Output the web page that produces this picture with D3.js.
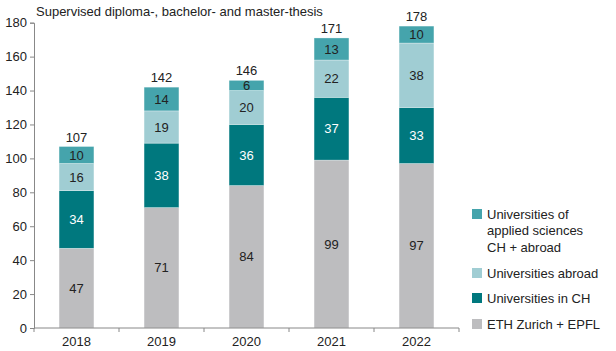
<!DOCTYPE html>
<html lang="en">
<head>
<meta charset="UTF-8">
<title>Supervised theses</title>
<script src="https://d3js.org/d3.v7.min.js"></script>
<style>
  body { margin: 0; background: #fff; }
  svg { font-family: "Liberation Sans", Arial, sans-serif; }
</style>
</head>
<body>
<div id="chart"></div>
<script>
const years = ["2018", "2019", "2020", "2021", "2022"];
const ethEpfl = [47, 71, 84, 99, 97];
const uniCH = [34, 38, 36, 37, 33];
const uniAbroad = [16, 19, 20, 22, 38];
const uniApplied = [10, 14, 6, 13, 10];
const yTicks = [0, 20, 40, 60, 80, 100, 120, 140, 160, 180];

const series = [
  { key: "eth", name: ["ETH Zurich + EPFL"], values: ethEpfl, color: "#bdbdbf", text: "#222" },
  { key: "ch", name: ["Universities in CH"], values: uniCH, color: "#00787e", text: "#fff" },
  { key: "abroad", name: ["Universities abroad"], values: uniAbroad, color: "#a0cdd3", text: "#222" },
  { key: "applied", name: ["Universities of", "applied sciences", "CH + abroad"], values: uniApplied, color: "#45a4ac", text: "#222" }
];

const width = 616, height = 351;
const plotLeft = 34, plotRight = 459, plotTop = 22.7, plotBottom = 328;

const svg = d3.select("#chart").append("svg")
  .attr("width", width)
  .attr("height", height);

const x = d3.scaleBand().domain(years).range([plotLeft, plotRight]).paddingInner(0.59).paddingOuter(0.295);
const y = d3.scaleLinear().domain([0, 180]).range([plotBottom, plotTop]);

// stack the rows
const rows = years.map((yr, i) => {
  const r = { year: yr };
  series.forEach(s => r[s.key] = s.values[i]);
  return r;
});
const stacked = d3.stack().keys(series.map(s => s.key))(rows);

// bars
const groups = svg.selectAll("g.layer")
  .data(stacked)
  .join("g")
  .attr("class", "layer")
  .attr("fill", (d, i) => series[i].color);

groups.selectAll("rect")
  .data(d => d)
  .join("rect")
  .attr("x", d => x(d.data.year))
  .attr("y", d => y(d[1]))
  .attr("width", x.bandwidth())
  .attr("height", d => y(d[0]) - y(d[1]))
  .attr("stroke", "#fff")
  .attr("stroke-opacity", 0.5)
  .attr("stroke-width", 0.6);

// segment labels
stacked.forEach((layer, i) => {
  svg.append("g").selectAll("text")
    .data(layer)
    .join("text")
    .attr("x", d => x(d.data.year) + x.bandwidth() / 2)
    .attr("y", d => (y(d[0]) + y(d[1])) / 2)
    .attr("dy", "0.36em")
    .attr("text-anchor", "middle")
    .attr("font-size", 13)
    .attr("fill", series[i].text)
    .text(d => d[1] - d[0]);
});

// totals
const last = stacked[stacked.length - 1];
svg.append("g").selectAll("text")
  .data(last)
  .join("text")
  .attr("x", d => x(d.data.year) + x.bandwidth() / 2)
  .attr("y", d => y(d[1]) - 5)
  .attr("text-anchor", "middle")
  .attr("font-size", 13)
  .attr("fill", "#222")
  .text(d => d[1]);

// axes
const yAxis = svg.append("g")
  .attr("transform", `translate(${plotLeft},0)`)
  .call(d3.axisLeft(y).tickValues(yTicks).tickSize(4).tickPadding(3));
yAxis.selectAll("text").attr("font-size", 13).attr("fill", "#222").attr("font-family", "Liberation Sans, Arial, sans-serif");

const xTickScale = d3.scaleLinear().domain([0, years.length]).range([plotLeft, plotRight]);
const xAxis = svg.append("g")
  .attr("transform", `translate(0,${plotBottom})`);
xAxis.append("line")
  .attr("x1", plotLeft).attr("x2", plotRight)
  .attr("stroke", "#888");
xAxis.selectAll("line.tk")
  .data(d3.range(years.length + 1))
  .join("line")
  .attr("class", "tk")
  .attr("x1", d => xTickScale(d)).attr("x2", d => xTickScale(d))
  .attr("y1", 0).attr("y2", 4)
  .attr("stroke", "#888");
xAxis.selectAll("text")
  .data(years)
  .join("text")
  .attr("x", d => x(d) + x.bandwidth() / 2)
  .attr("y", 18)
  .attr("text-anchor", "middle")
  .attr("font-size", 13)
  .attr("fill", "#222")
  .text(d => d);

svg.selectAll(".domain").attr("stroke", "#888");
yAxis.selectAll(".tick line").attr("stroke", "#888");

// title
svg.append("text")
  .attr("x", 36)
  .attr("y", 16)
  .attr("font-size", 13)
  .attr("fill", "#222")
  .text("Supervised diploma-, bachelor- and master-thesis");

// legend (top to bottom: applied, abroad, CH, ETH)
const legendItems = series.slice().reverse();
const legendY = [214, 273, 298, 324];
const legend = svg.append("g");
legendItems.forEach((s, i) => {
  const g = legend.append("g").attr("transform", `translate(472,${legendY[i]})`);
  g.append("rect")
    .attr("x", 0).attr("y", -5)
    .attr("width", 10).attr("height", 10)
    .attr("fill", s.color);
  s.name.forEach((line, j) => {
    g.append("text")
      .attr("x", 15)
      .attr("y", j * 16.5)
      .attr("dy", "0.36em")
      .attr("font-size", 13)
      .attr("fill", "#222")
      .text(line);
  });
});
</script>
</body>
</html>
